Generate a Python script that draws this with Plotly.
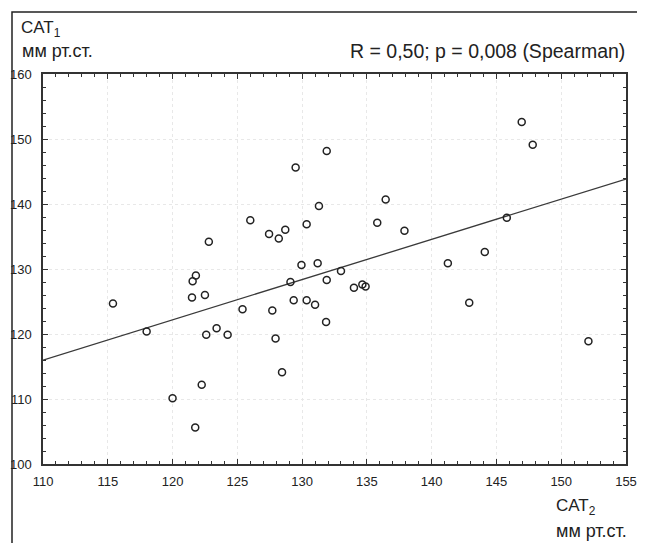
import numpy as np
import plotly.graph_objects as go

# Data
sat2 = [115.4, 118.0, 120.0, 121.5, 121.55, 121.8, 121.75, 122.25, 122.5, 122.6,
        122.8, 123.4, 124.25, 125.4, 126.0, 127.45, 127.7, 127.95, 128.2, 128.45,
        128.7, 129.1, 129.35, 129.5, 129.95, 130.35, 130.35, 131.0, 131.2, 131.3,
        131.85, 131.9, 131.9, 133.0, 134.0, 134.65, 134.9, 135.8, 136.45, 137.9,
        141.25, 142.9, 144.1, 145.8, 146.95, 147.8, 152.1]
sat1 = [124.7, 120.4, 110.1, 125.6, 128.1, 129.0, 105.6, 112.2, 126.0, 119.9,
        134.2, 120.9, 119.9, 123.8, 137.5, 135.4, 123.6, 119.3, 134.7, 114.1,
        136.05, 128.0, 125.2, 145.6, 130.6, 136.9, 125.2, 124.5, 130.9, 139.7,
        121.85, 128.3, 148.15, 129.7, 127.1, 127.6, 127.3, 137.1, 140.7, 135.9,
        130.9, 124.8, 132.6, 137.9, 152.6, 149.1, 118.9]
fit_intercept = 47.9
fit_slope = 0.619
fit_x = [110, 155]
x_ticks = [110, 115, 120, 125, 130, 135, 140, 145, 150, 155]
y_ticks = [100, 110, 120, 130, 140, 150, 160]
stat_text = "R = 0,50; p = 0,008 (Spearman)"

FONT = "Liberation Sans, Arial, sans-serif"
TXT = "#222222"

fit_y = [fit_intercept + fit_slope * v for v in fit_x]

fig = go.Figure()
fig.add_trace(go.Scatter(x=fit_x, y=fit_y, mode="lines",
                         line=dict(color="#3a3a3a", width=1.3),
                         hoverinfo="skip", showlegend=False))
fig.add_trace(go.Scatter(x=sat2, y=sat1, mode="markers",
                         marker=dict(symbol="circle-open", size=7,
                                     color="#222222", line=dict(width=1.5, color="#222222")),
                         showlegend=False))

axis_common = dict(
    showline=True, linecolor="#333333", linewidth=1.5, mirror="allticks",
    ticks="inside", ticklen=5, tickcolor="#333333", tickwidth=1,
    showgrid=True, gridcolor="#e8e8e8", griddash="dot", gridwidth=1,
    zeroline=False, automargin=False,
    tickfont=dict(family=FONT, size=13, color=TXT),
)

fig.update_xaxes(range=[110, 155], tickvals=x_ticks, ticktext=[str(v) for v in x_ticks],
                 ticklabelstandoff=5,
                 minor=dict(dtick=1, ticks="inside", ticklen=3, tickcolor="#333333", showgrid=False),
                 **axis_common)
fig.update_yaxes(range=[100, 160], tickvals=y_ticks, ticktext=[str(v) for v in y_ticks],
                 ticklabelstandoff=7,
                 minor=dict(dtick=2, ticks="inside", ticklen=3, tickcolor="#333333", showgrid=False),
                 **axis_common)

# Page body has an 8px margin; plot area in page pixels: x 43..626, y 74..464
def px_x(px):
    return (px - 43) / 583

def px_y(py):
    return (464 - py) / 390

# Outer frame
fig.add_shape(type="rect", xref="paper", yref="paper",
              x0=px_x(12), x1=px_x(638), y0=px_y(560), y1=px_y(12),
              line=dict(color="#222222", width=1.5), fillcolor="rgba(0,0,0,0)", layer="above")

ann = [
    dict(x=px_x(19), y=px_y(29), text="CAT<sub>1</sub>", xanchor="left", yanchor="middle", size=17),
    dict(x=px_x(20), y=px_y(51), text="мм рт.ст.", xanchor="left", yanchor="middle", size=18),
    dict(x=px_x(627), y=px_y(51), text=stat_text, xanchor="right", yanchor="middle", size=19.5),
    dict(x=px_x(554), y=px_y(507), text="CAT<sub>2</sub>", xanchor="left", yanchor="middle", size=17),
    dict(x=px_x(554), y=px_y(531), text="мм рт.ст.", xanchor="left", yanchor="middle", size=18),
]
for a in ann:
    fig.add_annotation(x=a["x"], y=a["y"], xref="paper", yref="paper", text=a["text"],
                       showarrow=False, xanchor=a["xanchor"], yanchor=a["yanchor"],
                       font=dict(family=FONT, size=a["size"], color=TXT))

fig.update_layout(
    width=637, height=535,
    margin=dict(l=35, r=19, t=66, b=79),
    paper_bgcolor="white", plot_bgcolor="white",
    font=dict(family=FONT, color=TXT),
)

fig.write_html("out.html")
